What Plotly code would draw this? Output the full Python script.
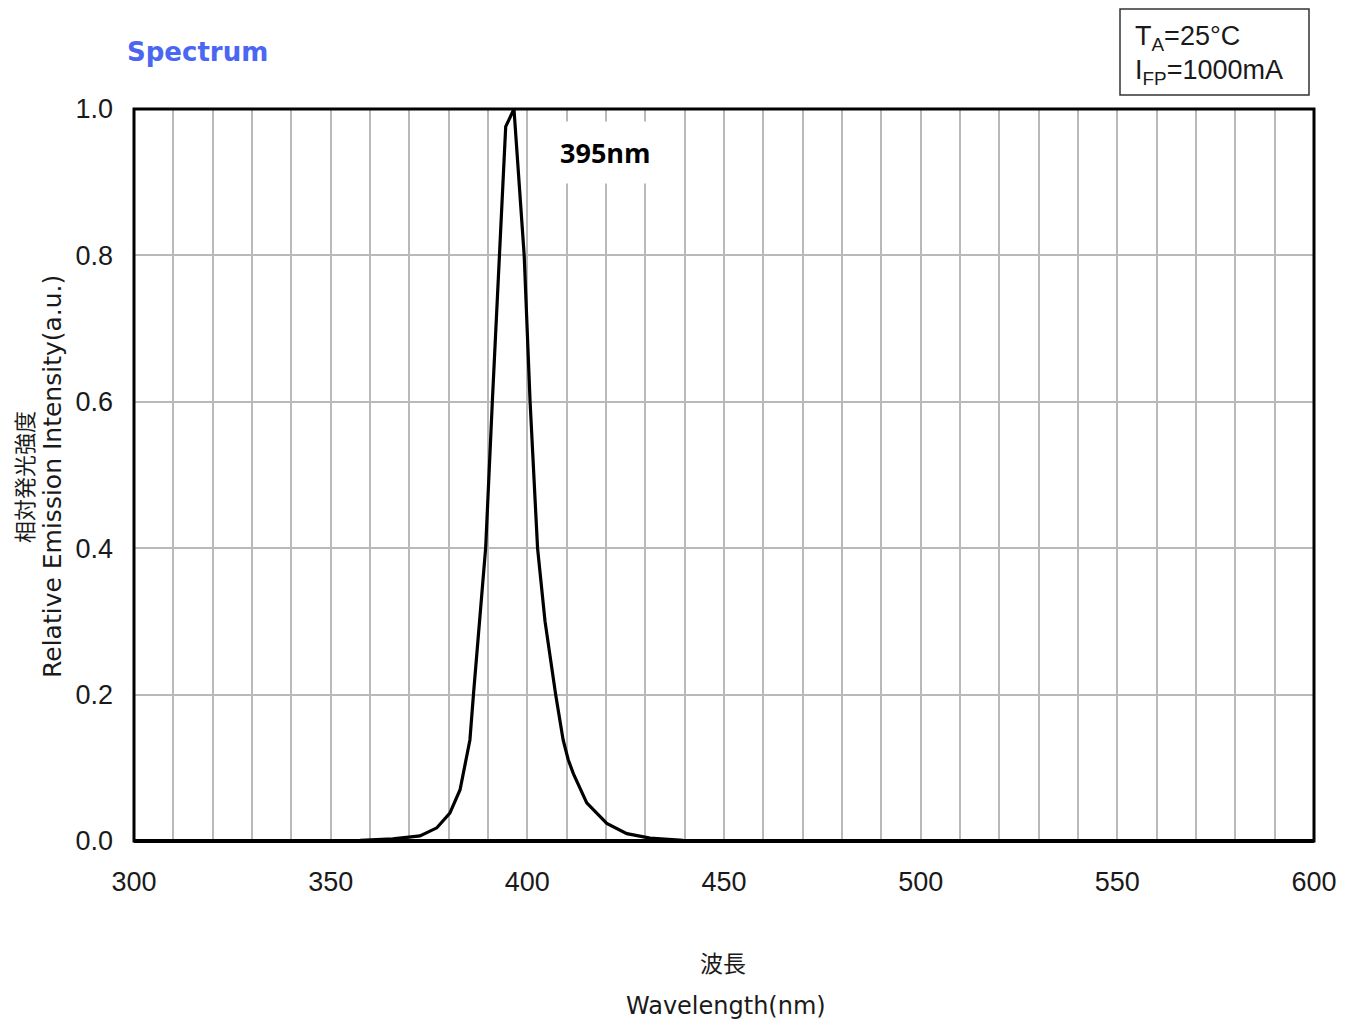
import plotly.graph_objects as go

# ---- data ----
wavelength_nm = [300, 330, 350, 357.5, 365.8, 372.7, 377.0, 380.3, 382.9, 384.4, 385.4,
                 386.3, 389.4, 391.1, 392.9, 394.5, 396.6, 399.2, 400.7, 402.6, 404.5,
                 407.2, 409.1, 410.4, 411.7, 415.1, 420.2, 425.3, 431.2, 439.6, 450,
                 500, 550, 600]
intensity = [0, 0, 0.0005, 0.001, 0.003, 0.007, 0.018, 0.038, 0.070, 0.111, 0.138,
             0.2, 0.4, 0.6, 0.8, 0.976, 1.0, 0.8, 0.6, 0.4, 0.3,
             0.2, 0.138, 0.111, 0.092, 0.052, 0.024, 0.010, 0.004, 0.001, 0.0003,
             0, 0, 0]
x_ticks = [300, 350, 400, 450, 500, 550, 600]
y_ticks = [0.0, 0.2, 0.4, 0.6, 0.8, 1.0]
peak_label = "395nm"
title_text = "Spectrum"
cond_lines = ["T<sub>A</sub>=25°C", "I<sub>FP</sub>=1000mA"]
y_title_en = "Relative Emission Intensity(a.u.)"
y_title_jp = "相対発光強度"
x_title_jp = "波長"
x_title_en = "Wavelength(nm)"

OFF = 8  # page body margin
W, H = 1335, 1018
# plot area in absolute screen pixels
L, R, T, B = 134, 1314, 109, 841


def px2x(px):
    return (px - L) / (R - L)


def py2y(py):
    return (B - py) / (B - T)


fig = go.Figure()
fig.add_trace(go.Scatter(x=wavelength_nm, y=intensity, mode="lines",
                         line=dict(color="black", width=3.2), showlegend=False,
                         hoverinfo="skip"))

grid_col = "#b9b9b9"
tick_font = dict(family="Liberation Sans, Arial, sans-serif", size=27, color="#1a1a1a")

fig.update_layout(
    width=W, height=H, autosize=False,
    margin=dict(l=L - OFF, r=(W + OFF) - R, t=T - OFF, b=(H + OFF) - B,
                autoexpand=False),
    paper_bgcolor="white", plot_bgcolor="white",
    xaxis=dict(range=[300, 600], tickvals=x_ticks, ticktext=[str(v) for v in x_ticks],
               showgrid=True, gridcolor=grid_col, gridwidth=2, zeroline=False,
               showline=False, ticks="", tickfont=tick_font, ticklabelstandoff=22,
               automargin=False,
               minor=dict(dtick=10, showgrid=True, gridcolor=grid_col, gridwidth=2)),
    yaxis=dict(range=[0, 1], tickvals=y_ticks, ticktext=[f"{v:.1f}" for v in y_ticks],
               showgrid=True, gridcolor=grid_col, gridwidth=2, zeroline=False,
               showline=False, ticks="", tickfont=tick_font, ticklabelstandoff=20,
               automargin=False),
)

# plot border and bold baseline
fig.add_shape(type="rect", xref="paper", yref="paper", x0=0, x1=1, y0=0, y1=1,
              line=dict(color="black", width=3), layer="above")
fig.add_shape(type="line", xref="paper", yref="paper", x0=0, x1=1, y0=0, y1=0,
              line=dict(color="black", width=4), layer="above")

# condition box
fig.add_shape(type="rect", xref="paper", yref="paper",
              x0=px2x(1120), x1=px2x(1309), y0=py2y(95), y1=py2y(9),
              line=dict(color="#333333", width=1.5))
box_font = dict(family="Liberation Sans Narrow, Liberation Sans, Arial, sans-serif",
                size=27, color="#1a1a1a")
fig.add_annotation(text=cond_lines[0], xref="paper", yref="paper", x=px2x(1133),
                   y=py2y(38), xanchor="left", yanchor="middle", showarrow=False,
                   font=box_font)
fig.add_annotation(text=cond_lines[1], xref="paper", yref="paper", x=px2x(1133),
                   y=py2y(72), xanchor="left", yanchor="middle", showarrow=False,
                   font=box_font)

# title
fig.add_annotation(text=f"<b>{title_text}</b>", xref="paper", yref="paper",
                   x=px2x(125), y=py2y(52), xanchor="left", yanchor="middle",
                   showarrow=False,
                   font=dict(family="DejaVu Sans, Verdana, sans-serif", size=26,
                             color="#4a66f2"))

# peak label
fig.add_annotation(text=f"<b>{peak_label}</b>", xref="paper", yref="paper",
                   x=px2x(605), y=py2y(152), xanchor="center", yanchor="middle",
                   showarrow=False, bgcolor="white", borderpad=12,
                   font=dict(family="Open Sans, Liberation Sans, sans-serif", size=27,
                             color="black"))

# y titles
fig.add_annotation(text=y_title_en, xref="paper", yref="paper", x=px2x(52),
                   y=py2y(477), xanchor="center", yanchor="middle", textangle=-90,
                   showarrow=False,
                   font=dict(family="DejaVu Sans, Verdana, sans-serif", size=25,
                             color="#1a1a1a"))
fig.add_annotation(text=y_title_jp, xref="paper", yref="paper", x=px2x(23),
                   y=py2y(477), xanchor="center", yanchor="middle", textangle=-90,
                   showarrow=False,
                   font=dict(family="Noto Sans CJK JP, sans-serif", size=22,
                             color="#1a1a1a"))

# x titles
fig.add_annotation(text=x_title_jp, xref="paper", yref="paper", x=px2x(723),
                   y=py2y(962), xanchor="center", yanchor="middle", showarrow=False,
                   font=dict(family="Noto Sans CJK JP, sans-serif", size=23,
                             color="#1a1a1a"))
fig.add_annotation(text=x_title_en, xref="paper", yref="paper", x=px2x(726),
                   y=py2y(1006), xanchor="center", yanchor="middle", showarrow=False,
                   font=dict(family="DejaVu Sans, Verdana, sans-serif", size=24,
                             color="#1a1a1a"))

fig.write_html("out.html")
